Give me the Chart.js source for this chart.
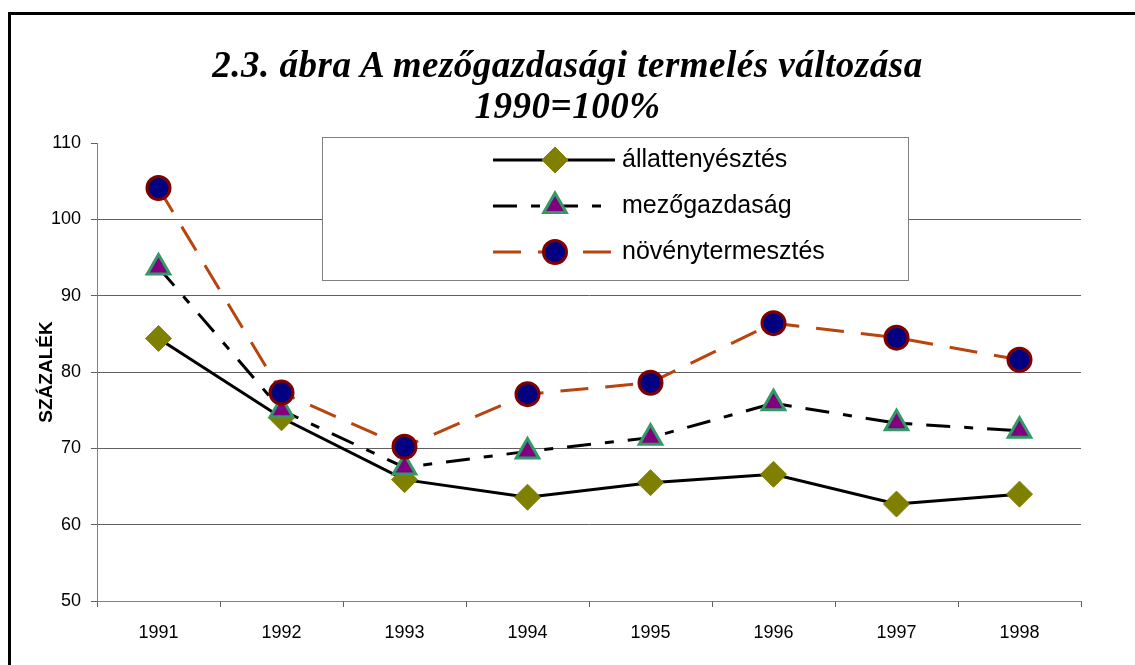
<!DOCTYPE html>
<html>
<head>
<meta charset="utf-8">
<title>2.3. ábra</title>
<script src="https://cdn.jsdelivr.net/npm/chart.js@4.4.1/dist/chart.umd.min.js"></script>
<style>
  body { margin: 0; background: #fff; }
  #wrap { position: relative; width: 1135px; height: 665px; overflow: hidden; }
  #frame { position: absolute; left: 8px; top: 12px; width: 1200px; height: 700px; border: 3px solid #000; }
  #title {
    position: absolute; left: 0; top: 44px; width: 1135px; text-align: center;
    font: italic bold 37px "Liberation Serif", "Times New Roman", serif; line-height: 41px;
    letter-spacing: 0.5px;
  }
  canvas { position: absolute; left: 0; top: 0; }
</style>
</head>
<body>
<div id="wrap">
  <canvas id="chart" width="1135" height="665"></canvas>
  <div id="frame"></div>
  <div id="title">2.3. ábra A mezőgazdasági termelés változása<br>1990=100%</div>
</div>
<script>
// values (1990 = 100)
const years = ['1991', '1992', '1993', '1994', '1995', '1996', '1997', '1998'];
const allattenyesztes = [84.4, 74.0, 65.9, 63.6, 65.5, 66.6, 62.7, 64.0];
const mezogazdasag = [93.7, 75.0, 67.5, 69.6, 71.4, 75.9, 73.3, 72.3];
const novenytermesztes = [104.1, 77.3, 70.2, 77.1, 78.6, 86.4, 84.5, 81.6];
const yTicks = [50, 60, 70, 80, 90, 100, 110];

const sans = '"Liberation Sans", Arial, sans-serif';

// legend drawn inside the plot, like the original
const legendBox = {
  id: 'legendBox',
  afterDatasetsDraw(chart) {
    const ctx = chart.ctx;
    ctx.save();
    ctx.fillStyle = '#fff';
    ctx.fillRect(322, 137, 586, 143);
    ctx.strokeStyle = '#808080';
    ctx.lineWidth = 1;
    ctx.strokeRect(322.5, 137.5, 586, 143);
    chart.data.datasets.forEach((ds, i) => {
      const y = 160 + i * 46;
      ctx.beginPath();
      ctx.setLineDash(ds.borderDash || []);
      ctx.strokeStyle = ds.borderColor;
      ctx.lineWidth = ds.borderWidth;
      ctx.moveTo(493, y);
      ctx.lineTo(615, y);
      ctx.stroke();
      ctx.setLineDash([]);
      ctx.fillStyle = ds.pointBackgroundColor;
      ctx.strokeStyle = ds.pointBorderColor;
      ctx.lineWidth = ds.pointBorderWidth;
      Chart.helpers.drawPoint(ctx, {
        pointStyle: ds.pointStyle, radius: ds.pointRadius,
        borderWidth: ds.pointBorderWidth, rotation: 0
      }, 555, y);
      ctx.fillStyle = '#000';
      ctx.font = '25px ' + sans;
      ctx.textBaseline = 'middle';
      ctx.textAlign = 'left';
      ctx.fillText(ds.label, 622, y);
    });
    ctx.restore();
  }
};

const ctx = document.getElementById('chart').getContext('2d');
new Chart(ctx, {
  type: 'line',
  data: {
    labels: years,
    datasets: [{
      label: 'állattenyésztés',
      data: allattenyesztes,
      order: 3,
      borderColor: '#000',
      borderWidth: 3,
      pointStyle: 'rectRot',
      pointRadius: 13,
      pointBackgroundColor: '#808000',
      pointBorderColor: '#808000',
      pointBorderWidth: 1
    }, {
      label: 'mezőgazdaság',
      data: mezogazdasag,
      order: 2,
      borderColor: '#000',
      borderWidth: 3,
      borderDash: [24, 14, 9, 14],
      pointStyle: 'triangle',
      pointRadius: 13,
      pointBackgroundColor: '#800080',
      pointBorderColor: '#339966',
      pointBorderWidth: 3
    }, {
      label: 'növénytermesztés',
      data: novenytermesztes,
      order: 1,
      borderColor: '#b8440e',
      borderWidth: 3,
      borderDash: [28, 17],
      pointStyle: 'circle',
      pointRadius: 11.5,
      pointBackgroundColor: '#000080',
      pointBorderColor: '#800000',
      pointBorderWidth: 3
    }]
  },
  options: {
    responsive: false,
    devicePixelRatio: 1,
    animation: false,
    events: [],
    layout: { padding: { top: 143, right: 54, bottom: 0, left: 0 } },
    plugins: {
      legend: { display: false },
      tooltip: { enabled: false }
    },
    scales: {
      x: {
        offset: true,
        grid: { drawOnChartArea: false, offset: true, tickLength: 6, tickColor: '#606060' },
        border: { color: '#808080' },
        ticks: { color: '#000', font: { family: sans, size: 18 }, padding: 15 },
        afterFit: s => { s.height = 64; }
      },
      y: {
        min: 50,
        max: 110,
        afterBuildTicks: s => { s.ticks = yTicks.map(v => ({ value: v })); },
        grid: {
          color: c => (c.tick && c.tick.value === 110) ? 'rgba(0,0,0,0)' : '#606060',
          tickColor: '#606060',
          tickLength: 6
        },
        border: { color: '#808080' },
        ticks: { color: '#000', font: { family: sans, size: 18 }, padding: 10 },
        title: {
          display: true,
          text: 'SZÁZALÉK',
          color: '#000',
          font: { family: sans, size: 19, weight: 'bold' },
          padding: { top: 35, bottom: 0 }
        },
        afterFit: s => { s.width = 97; }
      }
    }
  },
  plugins: [legendBox]
});
</script>
</body>
</html>
